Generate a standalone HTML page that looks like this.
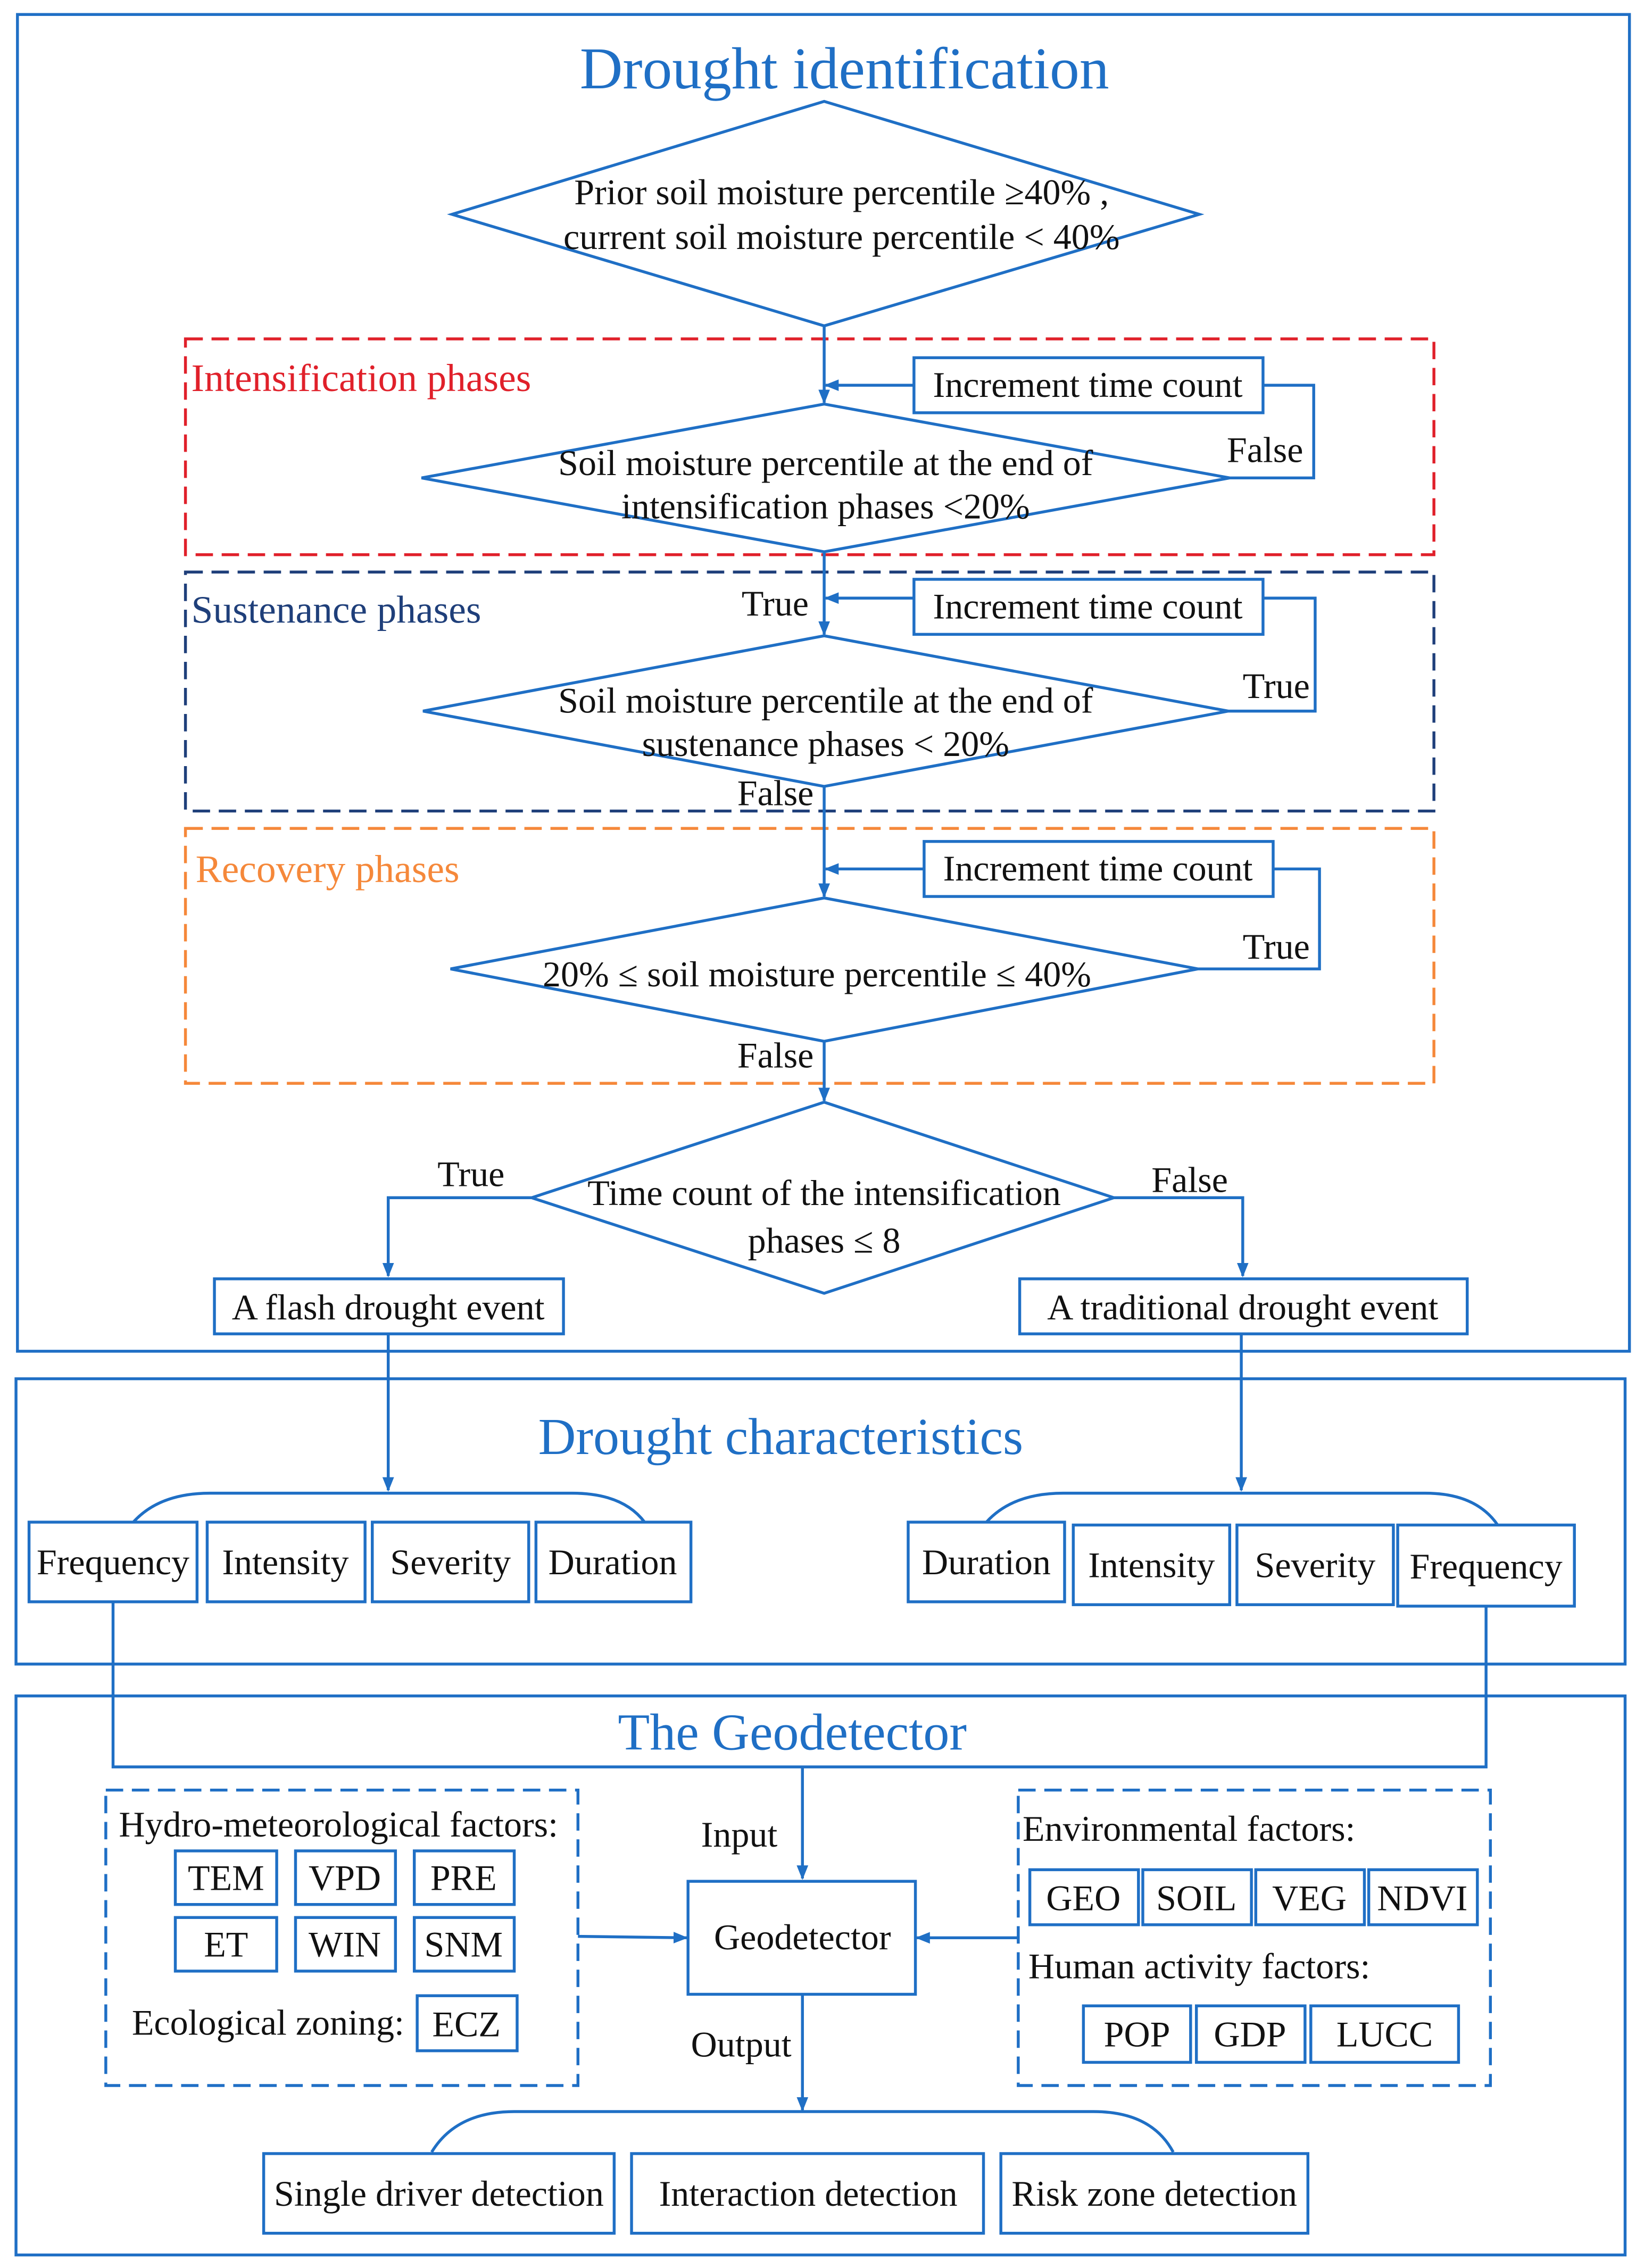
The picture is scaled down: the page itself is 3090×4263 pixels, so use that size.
<!DOCTYPE html>
<html><head><meta charset="utf-8"><style>
html,body{margin:0;padding:0;background:#fff;}
svg{display:block;}
text{font-family:"Liberation Serif",serif;font-size:25px;fill:#111;}
.t{font-size:41px;fill:#1f6fc5;text-anchor:middle;}
.t2{font-size:36px;}
.c{text-anchor:middle;}
.b{fill:none;stroke:#1f6fc5;stroke-width:2;}
.bw{fill:#fff;stroke:#1f6fc5;stroke-width:2;}
.d{fill:none;stroke-width:2;stroke-dasharray:12,6;}
.lab{font-size:27px;}
</style></head><body>
<svg width="3090" height="4263" viewBox="0 0 1135 1566" xmlns="http://www.w3.org/2000/svg">
<defs><marker id="a" markerWidth="10" markerHeight="10" refX="9" refY="5" orient="auto" markerUnits="userSpaceOnUse"><path d="M0,1 L10,5 L0,9 z" fill="#1f6fc5"/></marker></defs>
<rect x="0" y="0" width="1135" height="1566" fill="#fff"/>
<!-- Section 1 -->
<rect class="b" x="12" y="10" width="1113" height="923"/>
<text class="t" x="583" y="61">Drought identification</text>
<polygon class="b" points="312,148 569,70 828,148 569,225"/>
<text class="c" x="581" y="141">Prior soil moisture percentile ≥40% ,</text>
<text class="c" x="581" y="172">current soil moisture percentile &lt; 40%</text>

<rect class="d" x="128" y="234" width="862" height="149" stroke="#e0202a"/>
<text class="lab" x="132" y="270" style="fill:#e0202a">Intensification phases</text>
<line class="b" x1="569" y1="225" x2="569" y2="278" marker-end="url(#a)"/>
<rect class="b" x="631" y="247" width="241" height="38"/>
<text class="c" x="751" y="274">Increment time count</text>
<line class="b" x1="631" y1="266" x2="570" y2="266" marker-end="url(#a)"/>
<polygon class="b" points="291,330 569,279 849,330 569,381"/>
<text class="c" x="570" y="328">Soil moisture percentile at the end of</text>
<text class="c" x="570" y="358">intensification phases &lt;20%</text>
<polyline class="b" points="849,330 907,330 907,266 872,266"/>
<text x="847" y="319">False</text>

<rect class="d" x="128" y="395" width="862" height="165" stroke="#1f3f7a"/>
<text class="lab" x="132" y="430" style="fill:#1f3f7a">Sustenance phases</text>
<line class="b" x1="569" y1="381" x2="569" y2="438" marker-end="url(#a)"/>
<text x="512" y="425">True</text>
<rect class="b" x="631" y="400" width="241" height="38"/>
<text class="c" x="751" y="427">Increment time count</text>
<line class="b" x1="631" y1="413" x2="570" y2="413" marker-end="url(#a)"/>
<polygon class="b" points="292,491 569,439 848,491 569,543"/>
<text class="c" x="570" y="492">Soil moisture percentile at the end of</text>
<text class="c" x="570" y="522">sustenance phases &lt; 20%</text>
<polyline class="b" points="848,491 908,491 908,413 872,413"/>
<text x="858" y="482">True</text>
<text x="509" y="556">False</text>

<rect class="d" x="128" y="572" width="862" height="176" stroke="#f5883a"/>
<text class="lab" x="135" y="609" style="fill:#f5883a">Recovery phases</text>
<line class="b" x1="569" y1="543" x2="569" y2="619" marker-end="url(#a)"/>
<rect class="b" x="638" y="581" width="241" height="38"/>
<text class="c" x="758" y="608">Increment time count</text>
<line class="b" x1="638" y1="600" x2="570" y2="600" marker-end="url(#a)"/>
<polygon class="b" points="311,669 569,620 827,669 569,719"/>
<text class="c" x="564" y="681">20% ≤ soil moisture percentile ≤ 40%</text>
<polyline class="b" points="827,669 911,669 911,600 879,600"/>
<text x="858" y="662">True</text>
<text x="509" y="737">False</text>

<line class="b" x1="569" y1="719" x2="569" y2="760" marker-end="url(#a)"/>
<polygon class="b" points="367,827 569,761 769,827 569,893"/>
<text class="c" x="569" y="832">Time count of the intensification</text>
<text class="c" x="569" y="865">phases ≤ 8</text>
<polyline class="b" points="367,827 268,827 268,881" marker-end="url(#a)"/>
<text x="302" y="819">True</text>
<polyline class="b" points="769,827 858,827 858,881" marker-end="url(#a)"/>
<text x="795" y="823">False</text>
<rect class="b" x="148" y="883" width="241" height="38"/>
<text class="c" x="268" y="911">A flash drought event</text>
<rect class="b" x="704" y="883" width="309" height="38"/>
<text class="c" x="858" y="911">A traditional drought event</text>
<line class="b" x1="268" y1="921" x2="268" y2="1029" marker-end="url(#a)"/>
<line class="b" x1="857" y1="921" x2="857" y2="1029" marker-end="url(#a)"/>

<!-- Section 2 -->
<rect class="b" x="11" y="952" width="1111" height="197"/>
<text class="t t2" x="539" y="1004">Drought characteristics</text>
<path class="b" d="M92,1051 Q110,1031 145,1031 L395,1031 Q430,1031 445,1051"/>
<path class="b" d="M681,1051 Q699,1031 734,1031 L984,1031 Q1019,1031 1034,1053"/>
<rect class="bw" x="20" y="1051" width="116" height="55"/><text class="c" x="78" y="1087">Frequency</text>
<rect class="bw" x="143" y="1051" width="109" height="55"/><text class="c" x="197" y="1087">Intensity</text>
<rect class="bw" x="257" y="1051" width="108" height="55"/><text class="c" x="311" y="1087">Severity</text>
<rect class="bw" x="370" y="1051" width="107" height="55"/><text class="c" x="423" y="1087">Duration</text>
<rect class="bw" x="627" y="1051" width="108" height="55"/><text class="c" x="681" y="1087">Duration</text>
<rect class="bw" x="741" y="1053" width="108" height="55"/><text class="c" x="795" y="1089">Intensity</text>
<rect class="bw" x="854" y="1053" width="108" height="55"/><text class="c" x="908" y="1089">Severity</text>
<rect class="bw" x="965" y="1053" width="122" height="56"/><text class="c" x="1026" y="1090">Frequency</text>

<!-- Section 3 -->
<rect class="b" x="11" y="1171" width="1111" height="386"/>
<polyline class="b" points="78,1106 78,1220 1026,1220 1026,1109"/>
<rect x="400" y="1178" width="300" height="38" fill="#fff"/>
<text class="t t2" x="547" y="1208">The Geodetector</text>
<line class="b" x1="554" y1="1220" x2="554" y2="1297" marker-end="url(#a)"/>
<text x="484" y="1275">Input</text>

<rect class="d" x="73" y="1236" width="326" height="204" stroke="#1f6fc5"/>
<text x="82" y="1268">Hydro-meteorological factors:</text>
<rect class="b" x="121" y="1278" width="70" height="37"/><text class="c" x="156" y="1305">TEM</text>
<rect class="b" x="204" y="1278" width="69" height="37"/><text class="c" x="238" y="1305">VPD</text>
<rect class="b" x="286" y="1278" width="69" height="37"/><text class="c" x="320" y="1305">PRE</text>
<rect class="b" x="121" y="1324" width="70" height="37"/><text class="c" x="156" y="1351">ET</text>
<rect class="b" x="204" y="1324" width="69" height="37"/><text class="c" x="238" y="1351">WIN</text>
<rect class="b" x="286" y="1324" width="69" height="37"/><text class="c" x="320" y="1351">SNM</text>
<text x="91" y="1405">Ecological zoning:</text>
<rect class="b" x="288" y="1378" width="69" height="38"/><text class="c" x="322" y="1406">ECZ</text>
<line class="b" x1="399" y1="1337" x2="474" y2="1338" marker-end="url(#a)"/>

<rect class="b" x="475" y="1299" width="157" height="78"/>
<text class="c" x="554" y="1346">Geodetector</text>
<line class="b" x1="703" y1="1338" x2="633" y2="1338" marker-end="url(#a)"/>

<rect class="d" x="703" y="1236" width="326" height="204" stroke="#1f6fc5"/>
<text x="706" y="1271">Environmental factors:</text>
<rect class="b" x="711" y="1291" width="75" height="38"/><text class="c" x="748" y="1319">GEO</text>
<rect class="b" x="789" y="1291" width="75" height="38"/><text class="c" x="826" y="1319">SOIL</text>
<rect class="b" x="867" y="1291" width="75" height="38"/><text class="c" x="904" y="1319">VEG</text>
<rect class="b" x="945" y="1291" width="75" height="38"/><text class="c" x="982" y="1319">NDVI</text>
<text x="710" y="1366">Human activity factors:</text>
<rect class="b" x="748" y="1385" width="74" height="39"/><text class="c" x="785" y="1413">POP</text>
<rect class="b" x="826" y="1385" width="75" height="39"/><text class="c" x="863" y="1413">GDP</text>
<rect class="b" x="905" y="1385" width="102" height="39"/><text class="c" x="956" y="1413">LUCC</text>

<line class="b" x1="554" y1="1377" x2="554" y2="1457" marker-end="url(#a)"/>
<text x="477" y="1420">Output</text>
<path class="b" d="M298,1486 Q315,1458 355,1458 L755,1458 Q795,1458 810,1486"/>
<rect class="bw" x="182" y="1487" width="242" height="55"/><text class="c" x="303" y="1523">Single driver detection</text>
<rect class="bw" x="436" y="1487" width="243" height="55"/><text class="c" x="558" y="1523">Interaction detection</text>
<rect class="bw" x="691" y="1487" width="212" height="55"/><text class="c" x="797" y="1523">Risk zone detection</text>
</svg>
</body></html>
